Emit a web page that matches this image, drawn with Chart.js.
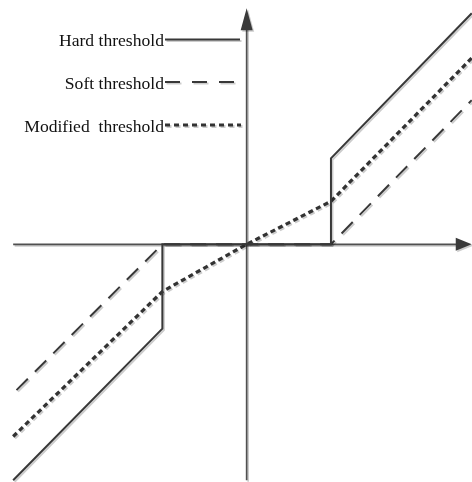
<!DOCTYPE html>
<html>
<head>
<meta charset="utf-8">
<script src="https://cdn.jsdelivr.net/npm/chart.js@4/dist/chart.umd.min.js"></script>
<style>
html,body{margin:0;padding:0;background:#fff;}
#wrap{width:472px;height:482px;}
</style>
</head>
<body>
<div id="wrap"><canvas id="c" width="472" height="482"></canvas></div>
<script>
// Series labels
const seriesLabels = ["Hard threshold", "Soft threshold", "Modified  threshold"];
// Hard threshold
const hardX = [-2.77, -1.0, -1.0, 1.0, 1.0, 2.67];
const hardY = [-2.80, -1.0, 0.0, 0.0, 1.02, 2.74];
// Soft threshold
const softX = [-2.73, -1.0, 1.0, 2.67];
const softY = [-1.73, 0.0, 0.0, 1.71];
// Modified threshold
const modX = [-2.77, -1.0, 0.0, 1.0, 2.67];
const modY = [-2.28, -0.56, 0.0, 0.51, 2.21];
// Axis extents (data units)
const axisXRange = [-2.77, 2.67];
const axisYRange = [-2.80, 2.80];

const pts = (xs, ys) => xs.map((x, i) => ({x: x, y: ys[i]}));
const lineColor = '#383838';

const shadowPlugin = {
  id: 'shadow',
  beforeDatasetDraw(chart) {
    const ctx = chart.ctx;
    ctx.save();
    ctx.shadowColor = 'rgba(0,0,0,0.2)';
    ctx.shadowOffsetX = 1.5;
    ctx.shadowOffsetY = 1.5;
    ctx.shadowBlur = 0;
  },
  afterDatasetDraw(chart) {
    chart.ctx.restore();
  }
};

const axesPlugin = {
  id: 'arrowAxes',
  beforeDatasetsDraw(chart) {
    const ctx = chart.ctx;
    const xs = chart.scales.x, ys = chart.scales.y;
    const x0 = xs.getPixelForValue(0), y0 = ys.getPixelForValue(0);
    const xl = xs.getPixelForValue(axisXRange[0]), xr = xs.getPixelForValue(axisXRange[1]);
    const yb = ys.getPixelForValue(axisYRange[0]), yt = ys.getPixelForValue(axisYRange[1]);
    ctx.save();
    ctx.shadowColor = 'rgba(0,0,0,0.2)';
    ctx.shadowOffsetX = 1.5;
    ctx.shadowOffsetY = 1.5;
    ctx.strokeStyle = '#505050';
    ctx.fillStyle = '#3a3a3a';
    ctx.lineWidth = 1.7;
    // horizontal axis
    ctx.beginPath();
    ctx.moveTo(xl, y0);
    ctx.lineTo(xr - 14, y0);
    ctx.stroke();
    ctx.beginPath();
    ctx.moveTo(xr, y0);
    ctx.lineTo(xr - 16, y0 - 6.5);
    ctx.lineTo(xr - 16, y0 + 6.5);
    ctx.closePath();
    ctx.fill();
    // vertical axis
    ctx.beginPath();
    ctx.moveTo(x0, yb);
    ctx.lineTo(x0, yt + 20);
    ctx.stroke();
    ctx.beginPath();
    ctx.moveTo(x0, yt);
    ctx.lineTo(x0 - 6, yt + 22);
    ctx.lineTo(x0 + 6, yt + 22);
    ctx.closePath();
    ctx.fill();
    ctx.restore();
  }
};

const legendPlugin = {
  id: 'sideLegend',
  afterDraw(chart) {
    const ctx = chart.ctx;
    const rows = [
      {textY: 46, lineY: 39.5},
      {textY: 89, lineY: 82},
      {textY: 132, lineY: 125}
    ];
    ctx.save();
    chart.data.datasets.forEach((ds, i) => {
      const r = rows[i];
      ctx.font = '17.6px "Liberation Serif", "Times New Roman", serif';
      ctx.fillStyle = '#111';
      ctx.textAlign = 'right';
      ctx.textBaseline = 'alphabetic';
      ctx.fillText(ds.label, 164, r.textY);
      ctx.save();
      ctx.shadowColor = 'rgba(0,0,0,0.2)';
      ctx.shadowOffsetX = 1.5;
      ctx.shadowOffsetY = 1.5;
      ctx.strokeStyle = ds.borderColor;
      ctx.lineWidth = ds.borderWidth;
      ctx.setLineDash(ds.legendDash || []);
      ctx.beginPath();
      ctx.moveTo(165, r.lineY);
      ctx.lineTo(ds.legendEnd, r.lineY);
      ctx.stroke();
      ctx.restore();
    });
    ctx.restore();
  }
};

new Chart(document.getElementById('c'), {
  type: 'scatter',
  data: {
    datasets: [
      {label: seriesLabels[0], data: pts(hardX, hardY), showLine: true, borderColor: lineColor,
       borderWidth: 2, pointRadius: 0, tension: 0, legendEnd: 240},
      {label: seriesLabels[1], data: pts(softX, softY), showLine: true, borderColor: lineColor,
       borderWidth: 2, borderDash: [16, 10], pointRadius: 0, tension: 0, legendDash: [15, 12], legendEnd: 235},
      {label: seriesLabels[2], data: pts(modX, modY), showLine: true, borderColor: '#333',
       borderWidth: 3.2, borderDash: [5, 3.5], pointRadius: 0, tension: 0, legendDash: [5, 4], legendEnd: 241}
    ]
  },
  options: {
    responsive: false,
    animation: false,
    devicePixelRatio: 1,
    layout: {padding: 0},
    plugins: {legend: {display: false}, tooltip: {enabled: false}},
    scales: {
      x: {type: 'linear', min: -2.926, max: 2.673, display: false},
      y: {type: 'linear', min: -2.820, max: 2.898, display: false}
    }
  },
  plugins: [shadowPlugin, axesPlugin, legendPlugin]
});
</script>
</body>
</html>
